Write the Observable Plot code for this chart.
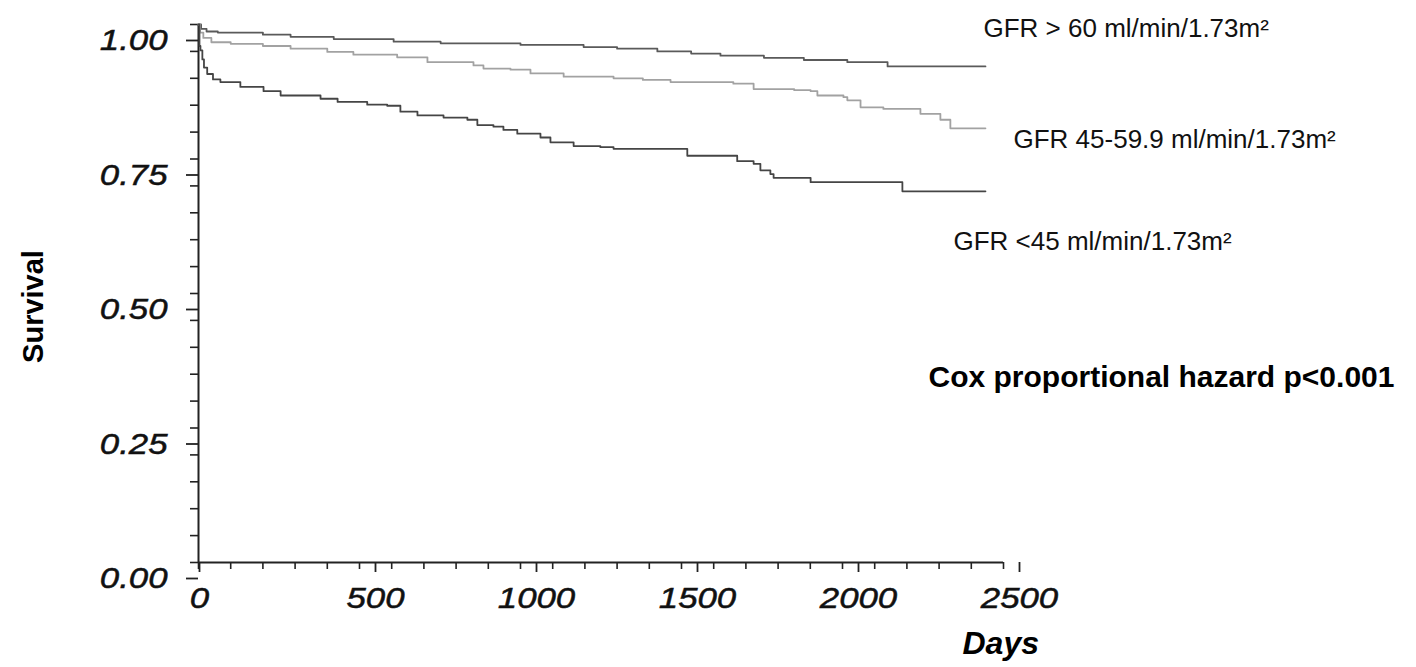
<!DOCTYPE html>
<html><head><meta charset="utf-8">
<script src="https://cdn.jsdelivr.net/npm/d3@7"></script>
<script src="https://cdn.jsdelivr.net/npm/@observablehq/plot@0.6"></script>
<style>html,body{margin:0;padding:0;background:#fff;overflow:hidden}</style>
</head><body><div id="chart"></div>
<script>
// ---- data ----
const groups = ["GFR > 60 ml/min/1.73m²", "GFR 45-59.9 ml/min/1.73m²", "GFR <45 ml/min/1.73m²"];
const groupColors = ["#5a5a5a", "#a2a2a2", "#454545"];

const highDays = [0, 8, 25, 60, 200, 286, 420, 606, 752, 1000, 1196, 1300, 1425, 1530, 1621, 1756, 1880, 2015, 2140, 2444];
const highSurv = [1.0, 0.992, 0.987, 0.985, 0.981, 0.977, 0.973, 0.968, 0.965, 0.962, 0.958, 0.955, 0.950, 0.946, 0.942, 0.938, 0.934, 0.930, 0.922, 0.922];

const midDays = [0, 5, 15, 40, 100, 200, 286, 400, 481, 617, 711, 854, 885, 969, 1031, 1134, 1289, 1380, 1466, 1661, 1724, 1850, 1901, 1922, 2003, 2015, 2056, 2127, 2242, 2304, 2335, 2444];
const midSurv = [1.0, 0.985, 0.975, 0.967, 0.964, 0.960, 0.955, 0.949, 0.944, 0.939, 0.930, 0.924, 0.918, 0.916, 0.909, 0.903, 0.900, 0.897, 0.893, 0.890, 0.880, 0.878, 0.876, 0.868, 0.865, 0.859, 0.846, 0.843, 0.834, 0.823, 0.807, 0.807];

const lowDays = [0, 3, 6, 12, 17, 27, 45, 68, 130, 202, 255, 379, 432, 524, 586, 627, 680, 761, 835, 866, 916, 947, 990, 1062, 1093, 1165, 1248, 1289, 1518, 1673, 1724, 1745, 1776, 1786, 1901, 2186, 2444];
const lowSurv = [1.0, 0.960, 0.952, 0.935, 0.920, 0.908, 0.898, 0.893, 0.884, 0.876, 0.868, 0.862, 0.856, 0.851, 0.849, 0.838, 0.831, 0.827, 0.823, 0.813, 0.810, 0.804, 0.797, 0.790, 0.781, 0.774, 0.772, 0.769, 0.756, 0.746, 0.741, 0.729, 0.722, 0.715, 0.707, 0.690, 0.690];

const yTicks = [0, 0.25, 0.5, 0.75, 1];
const yMinorTicks = [0, 0.05, 0.1, 0.15, 0.2, 0.25, 0.3, 0.35, 0.4, 0.45, 0.5, 0.55, 0.6, 0.65, 0.7, 0.75, 0.8, 0.85, 0.9, 0.95, 1];
const xTicks = [0, 500, 1000, 1500, 2000, 2500];
const xMinorTicks = [0, 100, 200, 300, 400, 500, 600, 700, 800, 900, 1000, 1100, 1200, 1300, 1400, 1500, 1600, 1700, 1800, 1900, 2000, 2100, 2200, 2300, 2400, 2500];

const yTitle = "Survival";
const xTitle = "Days";
const note = "Cox proportional hazard p<0.001";

// ---- build table ----
const rows = [];
[[highDays, highSurv], [midDays, midSurv], [lowDays, lowSurv]].forEach(([ds, ss], gi) => {
  ds.forEach((d, i) => rows.push({group: groups[gi], day: d, surv: ss[i]}));
});

const font = "'Liberation Sans', Arial, Helvetica, sans-serif";
const xLabelStyle = {tickSize: 10, tickPadding: 14, tickFormat: d => String(d), label: null,
  fontSize: 30, fontStyle: "italic", strokeWidth: 1.8, stroke: "#222", fill: "#111"};

const chart = Plot.plot({
  width: 1416,
  height: 667,
  marginLeft: 198,
  marginRight: 413,
  marginTop: 24,
  marginBottom: 105,
  style: {fontFamily: font, background: "#fff", overflow: "visible"},
  x: {domain: [0, 2500]},
  y: {domain: [0, 1]},
  color: {domain: groups, range: groupColors},
  marks: [
    Plot.axisY(yMinorTicks, {tickSize: 8, tickFormat: () => "", label: null, strokeWidth: 1.6, stroke: "#222"}),
    Plot.axisY(yTicks, {tickSize: 12, tickPadding: 19, tickFormat: d3.format(".2f"), label: null,
      fontSize: 30, fontStyle: "italic", dy: 16, strokeWidth: 1.8, stroke: "#222", fill: "#111"}),
    Plot.axisX(xMinorTicks, {tickSize: 7, tickFormat: () => "", label: null, strokeWidth: 1.6, stroke: "#222"}),
    Plot.axisX(xTicks.slice(0, 1), {...xLabelStyle, dx: 1}),
    Plot.axisX(xTicks.slice(1), {...xLabelStyle, dx: 16}),
    Plot.ruleX([0], {stroke: "#222", strokeWidth: 2}),
    Plot.ruleY([0], {stroke: "#222", strokeWidth: 2}),
    Plot.line(rows, {x: "day", y: "surv", z: "group", stroke: "group", curve: "step-after", strokeWidth: 1.8}),
    Plot.text([groups[0]], {frameAnchor: "top-left", dx: 785, dy: 12, textAnchor: "start", lineAnchor: "bottom", fontSize: 26, fill: "#111", ariaLabel: "lab-high"}),
    Plot.text([groups[1]], {frameAnchor: "top-left", dx: 815, dy: 123, textAnchor: "start", lineAnchor: "bottom", fontSize: 26, fill: "#111", ariaLabel: "lab-mid"}),
    Plot.text([groups[2]], {frameAnchor: "top-left", dx: 755, dy: 225, textAnchor: "start", lineAnchor: "bottom", fontSize: 26, fill: "#111", ariaLabel: "lab-low"}),
    Plot.text([note], {frameAnchor: "top-left", dx: 730, dy: 362, textAnchor: "start", lineAnchor: "bottom", fontSize: 30, fontWeight: "bold", fill: "#000", ariaLabel: "lab-note"}),
    Plot.text([xTitle], {frameAnchor: "bottom-right", dx: -41, dy: 91, textAnchor: "start", lineAnchor: "bottom", fontSize: 32, fontWeight: "bold", fontStyle: "italic", fill: "#000", ariaLabel: "lab-xtitle"}),
    Plot.text([yTitle], {frameAnchor: "left", dx: -156, dy: 13, rotate: -90, textAnchor: "middle", lineAnchor: "bottom", fontSize: 29, fontWeight: "bold", fill: "#000", ariaLabel: "lab-ytitle"})
  ]
});

document.getElementById("chart").appendChild(chart);

// the original figure's type is stretched horizontally
function stretch(t, s) {
  const tr = t.getAttribute("transform");
  if (tr) t.setAttribute("transform", tr + " " + s);
  else {
    const x = +t.getAttribute("x") || 0, y = +t.getAttribute("y") || 0;
    t.setAttribute("transform", `translate(${x},${y}) ${s} translate(${-x},${-y})`);
  }
}
chart.querySelectorAll('g[aria-label="y-axis tick label"] text, g[aria-label="x-axis tick label"] text')
  .forEach(t => {
    stretch(t, "scale(1.16,1)");
    t.setAttribute("stroke", "#111");
    t.setAttribute("stroke-width", "0.5");
  });
chart.querySelectorAll('g[aria-label="lab-ytitle"] text').forEach(t => stretch(t, "scale(1,1.13)"));
const lengths = {"lab-high": 344, "lab-mid": 387, "lab-low": 330, "lab-note": 465, "lab-xtitle": 86};
for (const [k, L] of Object.entries(lengths)) {
  chart.querySelectorAll(`g[aria-label="${k}"] text`).forEach(t => {
    t.setAttribute("textLength", L);
    t.setAttribute("lengthAdjust", "spacingAndGlyphs");
  });
}
</script>
</body></html>
